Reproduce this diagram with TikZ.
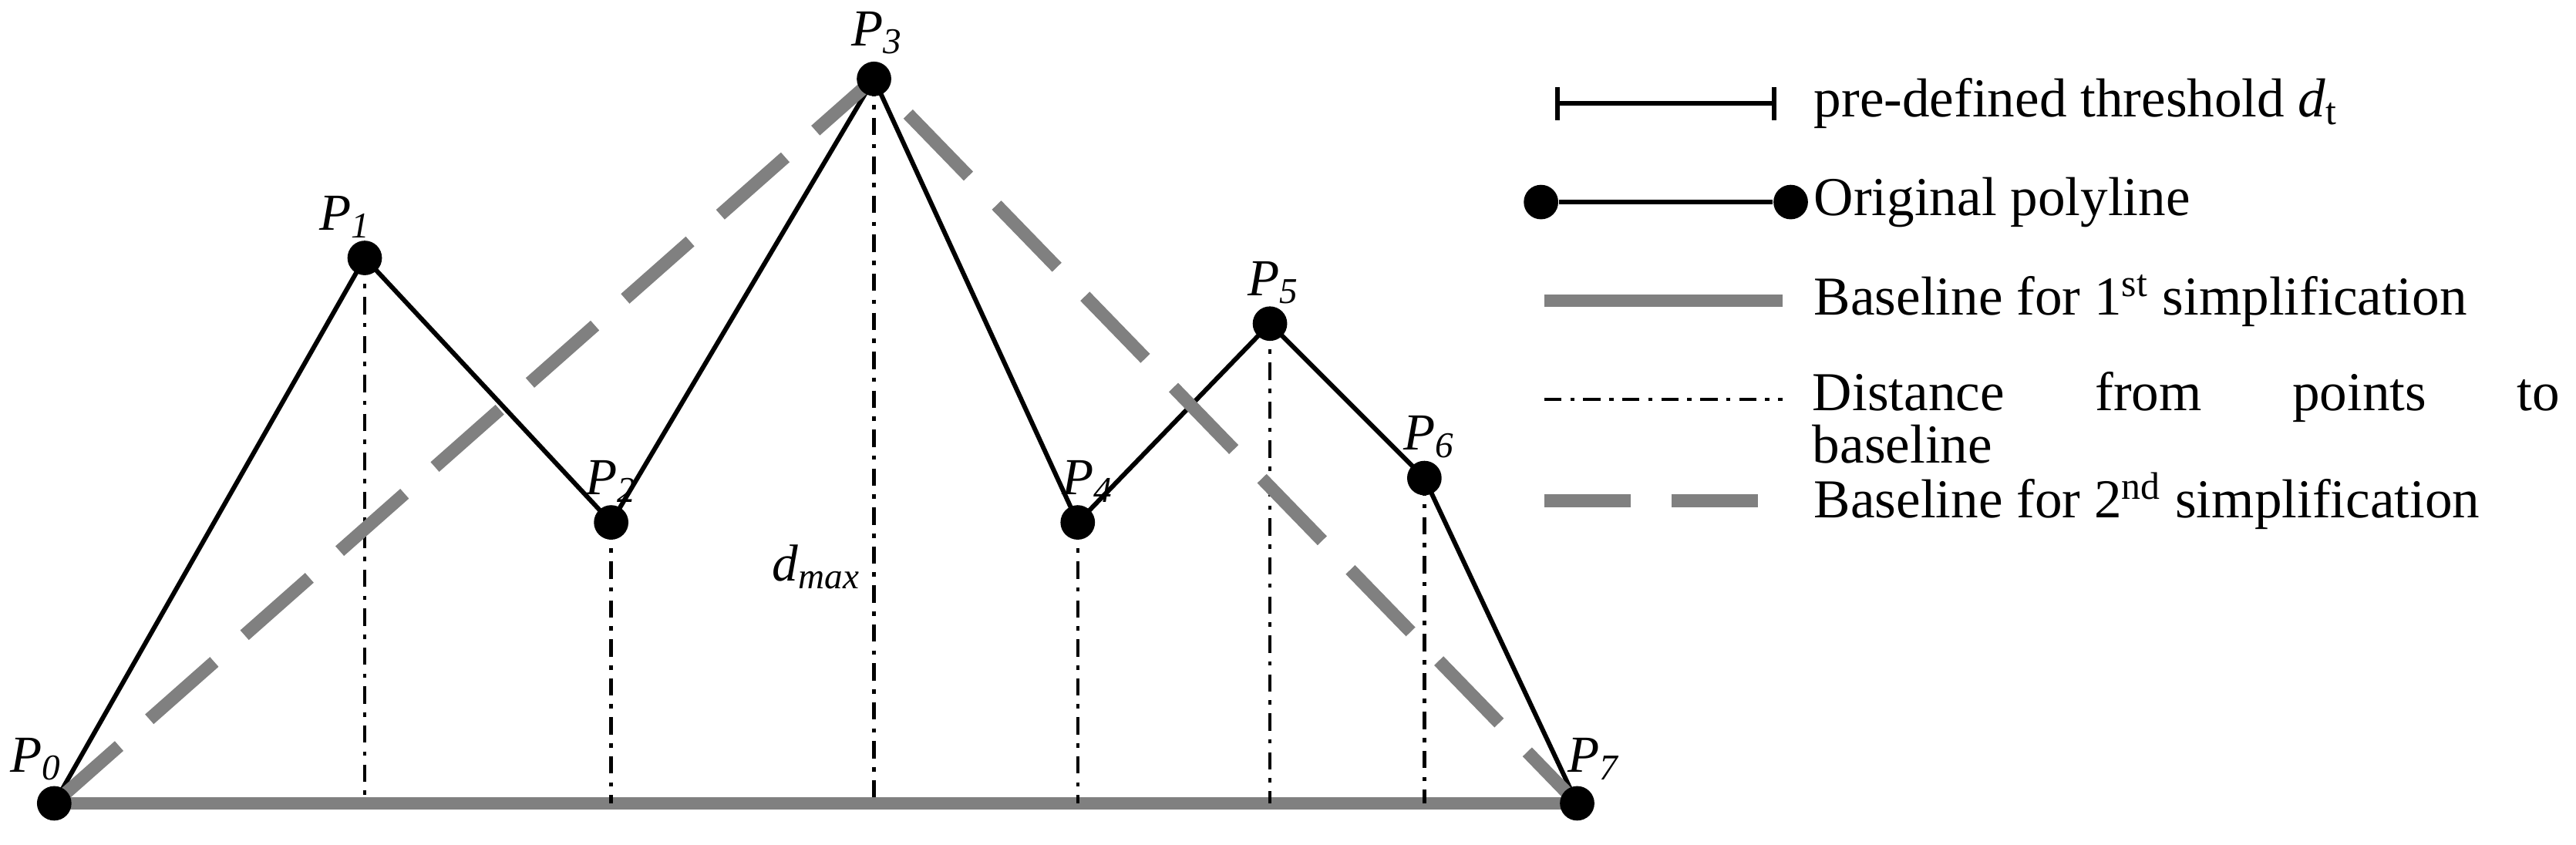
\documentclass[tikz,border=0pt]{standalone}
\usepackage{fontspec}
\setmainfont{Liberation Serif}
\begin{document}
\begin{tikzpicture}[x=0.02cm,y=-0.02cm,
  dot/.style={circle,fill=black,inner sep=0pt,minimum size=0.42cm},
  poly/.style={black,line width=1.6pt},
  base1/.style={gray,line width=4.5pt},
  base2/.style={gray,line width=4.5pt,dash pattern=on 30pt off 14pt},
  dist/.style={black,line width=1.2pt,dash pattern=on 6pt off 3pt on 1.5pt off 3pt},
  lbl/.style={font=\fontsize{18}{20}\selectfont\itshape},
  txt/.style={font=\fontsize{19}{24}\selectfont,anchor=west}]
\useasboundingbox (0,0) rectangle (1568,514);
\coordinate (P0) at (33,489);
\coordinate (P1) at (222,157);
\coordinate (P2) at (372,318);
\coordinate (P3) at (532,48);
\coordinate (P4) at (656,318);
\coordinate (P5) at (773,197);
\coordinate (P6) at (867,291);
\coordinate (P7) at (960,489);
\foreach \p in {1,...,6} \coordinate (B\p) at (P\p |- P0);
\draw[base1] (P0) -- (P7);
\foreach \p in {1,2,4,5,6} \draw[dist] (P\p) -- (B\p);
\draw[dist] (P3) -- (B3);
\draw[poly] (P0)--(P1)--(P2)--(P3)--(P4)--(P5)--(P6)--(P7);
\draw[base2] (P0) -- (P3) -- (P7);
\foreach \p in {0,...,7} \node[dot] (D\p) at (P\p) {};
\node[lbl] (L0) at (22,462) {P\textsubscript{0}};
\node[lbl] (L1) at (210,132) {P\textsubscript{1}};
\node[lbl] (L2) at (372,293) {P\textsubscript{2}};
\node[lbl] (L3) at (534,20) {P\textsubscript{3}};
\node[lbl] (L4) at (662,293) {P\textsubscript{4}};
\node[lbl] (L5) at (775,172) {P\textsubscript{5}};
\node[lbl] (L6) at (870,266) {P\textsubscript{6}};
\node[lbl] (L7) at (970,462) {P\textsubscript{7}};
\node[lbl] (dm) at (497,345) {d\textsubscript{max}};
% legend
\coordinate (a1) at (948,63); \coordinate (a2) at (1080,63);
\draw[line width=1.6pt] (a1)--(a2);
\draw[line width=1.6pt] ([yshift=-0.2cm]a1)--([yshift=0.2cm]a1);
\draw[line width=1.6pt] ([yshift=-0.2cm]a2)--([yshift=0.2cm]a2);
\node[txt] (t1) at (1098,63) {pre-defined threshold \textit{d}\textsubscript{t}};
\node[dot] (o1) at (938,123) {}; \node[dot] (o2) at (1090,123) {};
\draw[poly] (o1)--(o2);
\node[txt] (t2) at (1098,123) {Original polyline};
\coordinate (b1) at (940,183); \coordinate (b2) at (1085,183);
\draw[base1] (b1)--(b2);
\node[txt] (t3) at (1098,183) {Baseline for 1\textsuperscript{st} simplification};
\coordinate (c1) at (940,243); \coordinate (c2) at (1085,243);
\draw[dist] (c1)--(c2);
\node[anchor=north west,inner sep=0pt,text width=9.1cm,align=left,
  font=\fontsize{19}{14.5}\selectfont] (t4) at (1103,226) {Distance\hfill from\hfill points\hfill to\\baseline};
\coordinate (e1) at (940,305); \coordinate (e2) at (1085,305);
\draw[base2] (e1)--(e2);
\node[txt] (t5) at (1098,305) {Baseline for 2\textsuperscript{nd} simplification};
\end{tikzpicture}
\end{document}
